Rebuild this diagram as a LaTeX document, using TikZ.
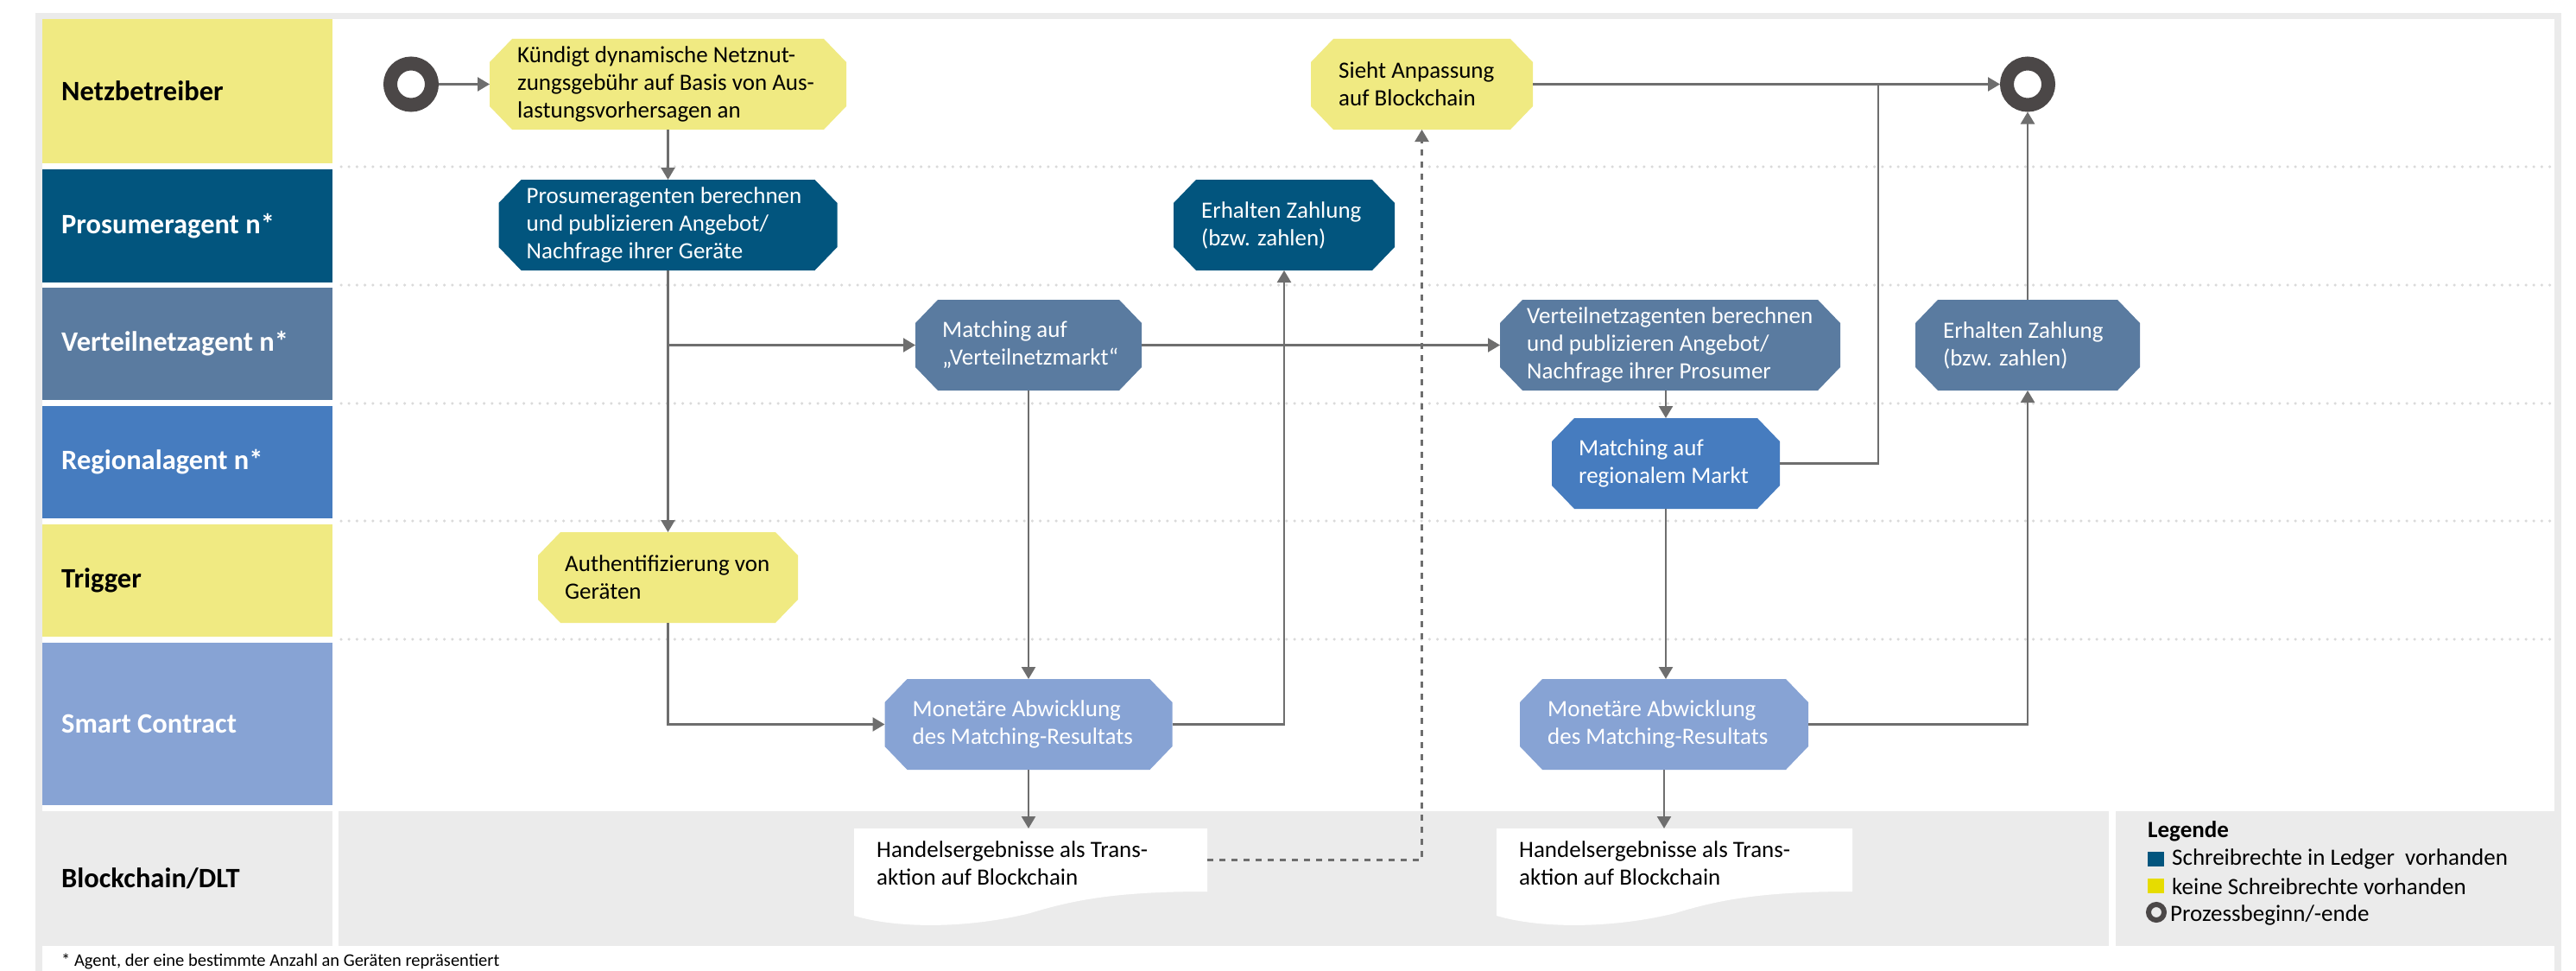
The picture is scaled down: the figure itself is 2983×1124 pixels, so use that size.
\documentclass[tikz,border=0pt]{standalone}
\usepackage{fontspec}
\setmainfont{Carlito}
\usetikzlibrary{arrows.meta}
\definecolor{yel}{HTML}{F0EA82}
\definecolor{dblue}{HTML}{02557E}
\definecolor{vblue}{HTML}{5A7BA0}
\definecolor{rblue}{HTML}{467CBF}
\definecolor{sblue}{HTML}{87A3D4}
\definecolor{lgray}{HTML}{EBEBEB}
\definecolor{agray}{HTML}{6E6E6E}
\definecolor{ringc}{HTML}{4B4747}
\definecolor{dotc}{HTML}{DADADA}
\definecolor{legyel}{HTML}{E6DC00}
\newcommand\docbg[2]{\fill[white] (#1,959) -- (#2,959) -- (#2,1032) .. controls ({#2-98},1032) and ({#2-150},1040) .. ({#2-205},1057) .. controls ({#2-278},1075) and ({#1+50},1075) .. (#1,1060) -- cycle;}
\begin{document}
\begin{tikzpicture}[x=1pt,y=-1pt,
  arr/.style={draw=agray, line width=2.4pt, -{Triangle[length=14pt,width=16pt]}},
  plain/.style={draw=agray, line width=2.4pt},
  darr/.style={arr, dash pattern=on 7pt off 7pt},
  cell/.style={rectangle, inner sep=0pt, outer sep=0pt, minimum width=336pt},
  lbl/.style={anchor=west, inner sep=0pt, font=\bfseries\fontsize{32.5pt}{38pt}\selectfont},
  txt/.style={anchor=west, inner sep=0pt, align=left, font=\fontsize{27pt}{32pt}\selectfont},
  sep/.style={draw=dotc, line width=3.5pt, line cap=round, dash pattern=on 0pt off 9.2pt},
  ringn/.style={circle, draw=ringc, line width=16pt, minimum size=48pt, inner sep=0pt, outer sep=8pt},
  oct/.style={rectangle, inner sep=0pt, outer sep=0pt, minimum height=105pt,
    path picture={\fill[#1] ([xshift=26pt]path picture bounding box.north west) -- ([xshift=-26pt]path picture bounding box.north east) -- ([yshift=-27pt]path picture bounding box.north east) -- ([yshift=27pt]path picture bounding box.south east) -- ([xshift=-26pt]path picture bounding box.south east) -- ([xshift=26pt]path picture bounding box.south west) -- ([yshift=27pt]path picture bounding box.south west) -- ([yshift=-27pt]path picture bounding box.north west) -- cycle;}},
  doc/.style={rectangle, inner sep=0pt, outer sep=0pt, fill=white, minimum height=73pt}
]
\useasboundingbox (0,0) rectangle (2983,1124);
% frame
\fill[lgray] (41,15) rectangle (2966,1124);
\fill[white] (49,22) rectangle (2958,1124);
% lane cells
\node[cell, fill=yel, minimum height=167pt] (L1) at (217,105.5) {};
\node[cell, fill=dblue, minimum height=131pt] (L2) at (217,261.5) {};
\node[cell, fill=vblue, minimum height=130pt] (L3) at (217,398) {};
\node[cell, fill=rblue, minimum height=130pt] (L4) at (217,535) {};
\node[cell, fill=yel, minimum height=130pt] (L5) at (217,672) {};
\node[cell, fill=sblue, minimum height=188pt] (L6) at (217,838) {};
\node[cell, fill=lgray, minimum height=156pt] (L7) at (217,1017) {};
\node[lbl] (L1t) at ([xshift=22pt]L1.west) {Netzbetreiber};
\node[lbl, text=white] (L2t) at ([xshift=22pt]L2.west) {Prosumeragent n*};
\node[lbl, text=white] (L3t) at ([xshift=22pt]L3.west) {Verteilnetzagent n*};
\node[lbl, text=white] (L4t) at ([xshift=22pt]L4.west) {Regionalagent n*};
\node[lbl] (L5t) at ([xshift=22pt]L5.west) {Trigger};
\node[lbl, text=white] (L6t) at ([xshift=22pt]L6.west) {Smart Contract};
\node[lbl] (L7t) at ([xshift=22pt]L7.west) {Blockchain/DLT};
% blockchain content and legend background
\fill[lgray] (392,939) rectangle (2442,1095);
\node[rectangle, fill=lgray, inner sep=0pt, minimum width=508pt, minimum height=156pt] (leg) at (2704,1017) {};
% separators
\foreach \yy in {193,330,467,603,740} {\draw[sep] (395,\yy) -- (2956,\yy);}
% document backgrounds
\docbg{989}{1398}
\docbg{1733}{2145}
% nodes
\node[ringn] (start) at (476,97.5) {};
\node[ringn] (endr) at (2348,97.5) {};
\node[oct=yel, minimum width=413pt] (n1) at (773.5,97.5) {};
\node[txt] (n1t) at ([xshift=32pt]n1.west) {Kündigt dynamische Netznut-\\zungsgebühr auf Basis von Aus-\\lastungsvorhersagen an};
\node[oct=yel, minimum width=257pt] (n2) at (1646.5,97.5) {};
\node[txt] (n2t) at ([xshift=32pt]n2.west) {Sieht Anpassung\\auf Blockchain};
\node[oct=dblue, minimum width=392pt] (p1) at (773.5,260.5) {};
\node[txt, text=white] (p1t) at ([xshift=32pt]p1.west) {Prosumeragenten berechnen\\und publizieren Angebot/\\Nachfrage ihrer Geräte};
\node[oct=dblue, minimum width=256pt] (p2) at (1487,260.5) {};
\node[txt, text=white] (p2t) at ([xshift=32pt]p2.west) {Erhalten Zahlung\\(bzw. zahlen)};
\node[oct=vblue, minimum width=262pt] (v1) at (1191,399.5) {};
\node[txt, text=white] (v1t) at ([xshift=31pt]v1.west) {Matching auf\\„Verteilnetzmarkt“};
\node[oct=vblue, minimum width=394pt] (v2) at (1934,399.5) {};
\node[txt, text=white] (v2t) at ([xshift=31pt]v2.west) {Verteilnetzagenten berechnen\\und publizieren Angebot/\\Nachfrage ihrer Prosumer};
\node[oct=vblue, minimum width=260pt] (e2) at (2348,399.5) {};
\node[txt, text=white] (e2t) at ([xshift=32pt]e2.west) {Erhalten Zahlung\\(bzw. zahlen)};
\node[oct=rblue, minimum width=264pt] (r1) at (1929,536.5) {};
\node[txt, text=white] (r1t) at ([xshift=31pt]r1.west) {Matching auf\\regionalem Markt};
\node[oct=yel, minimum width=301pt] (a1) at (773.5,668.5) {};
\node[txt] (a1t) at ([xshift=31pt]a1.west) {Authentifizierung von\\Geräten};
\node[oct=sblue, minimum width=333pt] (m1) at (1191,838.5) {};
\node[txt, text=white] (m1t) at ([xshift=32pt]m1.west) {Monetäre Abwicklung\\des Matching-Resultats};
\node[oct=sblue, minimum width=334pt] (m2) at (1927,838.5) {};
\node[txt, text=white] (m2t) at ([xshift=32pt]m2.west) {Monetäre Abwicklung\\des Matching-Resultats};
\node[doc, minimum width=409pt] (h1) at (1193.5,995.5) {};
\node[txt] (h1t) at ([xshift=26pt,yshift=-4pt]h1.west) {Handelsergebnisse als Trans-\\aktion auf Blockchain};
\node[doc, minimum width=412pt] (h2) at (1939,995.5) {};
\node[txt] (h2t) at ([xshift=26pt,yshift=-4pt]h2.west) {Handelsergebnisse als Trans-\\aktion auf Blockchain};
\coordinate (j) at (2175,97.5);
% connectors
\draw[arr] (start.east) -- (n1.west);
\draw[arr] (n1.south) -- (p1.north);
\draw[arr] (p1.south) -- (a1.north);
\draw[arr] (p1.south |- v1.west) -- (v1.west);
\draw[arr] (v1.east) -- (v2.west);
\draw[arr] (v1.south) -- (v1.south |- m1.north);
\draw[arr] (a1.south) |- (m1.west);
\draw[arr] (m1.east) -| (p2.south);
\draw[arr] (m1.south) -- (m1.south |- h1.north);
\draw[darr] (h1.east) -| (n2.south);
\draw[arr] (n2.east) -- (endr.west);
\draw[arr] (v2.south -| r1.north) -- (r1.north);
\draw[arr] (r1.south) -- (r1.south |- m2.north);
\draw[plain] (r1.east) -| (j);
\draw[arr] (m2.east) -| (e2.south);
\draw[arr] (m2.south) -- (m2.south |- h2.north);
\draw[arr] (e2.north) -- (endr.south);
% legend
\node[anchor=west, inner sep=0pt, font=\bfseries\fontsize{27pt}{30pt}\selectfont] (legt) at (2487,962) {Legende};
\node[rectangle, fill=dblue, minimum width=19pt, minimum height=17pt, inner sep=0pt] (lb) at (2496.5,994.5) {};
\node[txt] (lbt) at (2515,994) {Schreibrechte in Ledger\ \ vorhanden};
\node[rectangle, fill=legyel, minimum width=19pt, minimum height=17pt, inner sep=0pt] (ly) at (2496.5,1025) {};
\node[txt] (lyt) at (2515,1026) {keine Schreibrechte vorhanden};
\node[circle, draw=ringc, line width=6pt, minimum size=18pt, inner sep=0pt] (lr) at (2497,1056) {};
\node[txt] (lrt) at (2513,1059) {Prozessbeginn/-ende};
% footnote
\node[anchor=west, inner sep=0pt, font=\fontsize{20.5pt}{24pt}\selectfont] (fn) at (71,1113) {* Agent, der eine bestimmte Anzahl an Geräten repräsentiert};
\end{tikzpicture}
\end{document}
